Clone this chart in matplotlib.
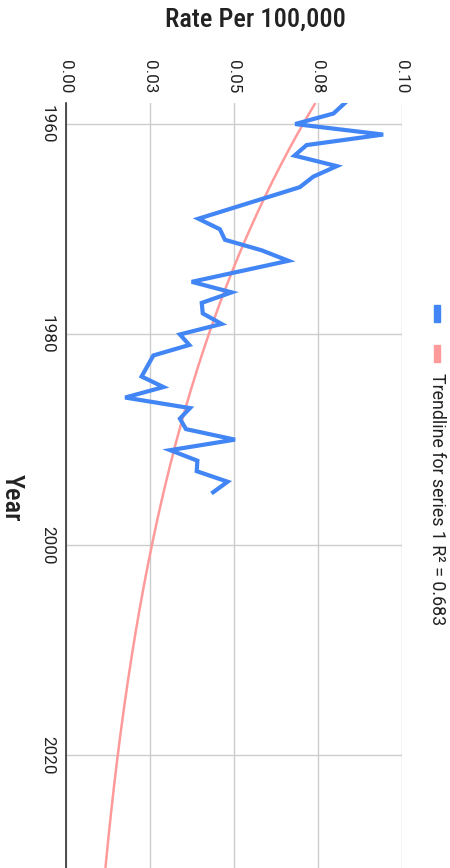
import matplotlib.pyplot as plt
from matplotlib.patches import Rectangle
import numpy as np

# data (year -> rate per 100,000)
years = [1958, 1959, 1960, 1961, 1962, 1963, 1964, 1965, 1966, 1969, 1970, 1971,
         1972, 1973, 1975, 1976, 1977, 1978, 1979, 1980, 1981, 1982, 1984, 1985,
         1986, 1987, 1988, 1989, 1990, 1991, 1992, 1993, 1994, 1995]
rates = [0.0830, 0.0796, 0.0682, 0.0944, 0.0716, 0.0680, 0.0806, 0.0736, 0.0696,
         0.0394, 0.0458, 0.0473, 0.0582, 0.0662, 0.0374, 0.0493, 0.0404, 0.0407,
         0.0463, 0.0339, 0.0367, 0.0260, 0.0225, 0.0290, 0.0176, 0.0369, 0.0339,
         0.0357, 0.0503, 0.0310, 0.0391, 0.0389, 0.0481, 0.0438]
x_ticks = [0.0, 0.025, 0.05, 0.075, 0.1]
x_tick_labels = ['0.00', '0.03', '0.05', '0.08', '0.10']
year_ticks = [1960, 1980, 2000, 2020]
trend_label = 'Trendline for series 1 R\u00b2 = 0.683'

W, H = 450, 868
fig = plt.figure(figsize=(W / 100, H / 100), dpi=100)
fig.patch.set_facecolor('white')

title_font = ['Liberation Sans Narrow', 'Roboto Condensed', 'DejaVu Sans']

# plot area in pixels
left, right, top, bottom = 66, 402, 103, 868
ax = fig.add_axes([left / W, 1 - bottom / H, (right - left) / W, (bottom - top) / H])

# exponential trendline fitted to the series
yrs = np.array(years, dtype=float)
b, ln_a = np.polyfit(yrs - 1960, np.log(rates), 1)
y_lo, y_hi = 1958.0, 1958.0 + (bottom - top) / 10.52
t = np.linspace(y_lo, y_hi, 200)
ax.plot(np.exp(ln_a + b * (t - 1960)), t, color='#ff9a9a', lw=1.8, zorder=3,
        solid_capstyle='butt')

ax.plot(rates, years, color='#4285f4', lw=3.0, zorder=4, solid_joinstyle='miter')

ax.set_xlim(0, 0.1)
ax.set_ylim(y_hi, y_lo)

ax.set_xticks(x_ticks)
ax.set_xticklabels(x_tick_labels, rotation=-90, fontsize=12.3, family='Roboto', color='#222222')
ax.set_yticks(year_ticks)
ax.set_yticklabels([str(y) for y in year_ticks], rotation=-90, fontsize=12.3,
                   family='Roboto', color='#222222', va='center')
ax.xaxis.tick_top()
ax.tick_params(axis='x', length=0, pad=7)
ax.tick_params(axis='y', length=0, pad=8)
ax.grid(True, color='#cccccc', lw=1)
ax.set_axisbelow(True)
for s in ['top', 'right', 'bottom']:
    ax.spines[s].set_visible(False)
ax.spines['left'].set_color('#333333')
ax.spines['left'].set_linewidth(1.2)
ax.spines['left'].set_zorder(5)

# axis titles
fig.text(255 / W, 1 - 20 / H, 'Rate Per 100,000', ha='center', va='center',
         fontsize=19, family=title_font, weight='medium', color='#222222')
fig.text(12 / W, 1 - 498 / H, 'Year', ha='center', va='center', rotation=-90,
         fontsize=19, family=title_font, weight='medium', color='#222222')

# legend (rotated like the rest of the chart)
fig.patches.append(Rectangle((434 / W, 1 - 322 / H), 6 / W, 17 / H, color='#4285f4',
                             transform=fig.transFigure, figure=fig))
fig.patches.append(Rectangle((434 / W, 1 - 362 / H), 6 / W, 17 / H, color='#ff9a9a',
                             transform=fig.transFigure, figure=fig))
fig.text(437 / W, 1 - 373 / H, trend_label, ha='center', va='top', rotation=-90,
         fontsize=12.8, family='Roboto', color='#222222')

fig.savefig('out.png', dpi=100)
